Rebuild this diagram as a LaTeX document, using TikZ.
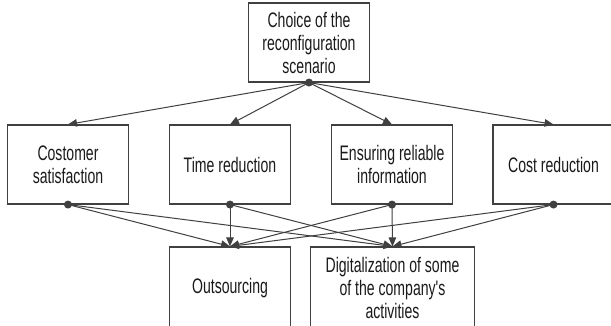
\documentclass[tikz,border=0pt]{standalone}
\usepackage{fontspec}
\newfontfamily\narrowfont{Liberation Sans}[FakeStretch=0.67]
\usetikzlibrary{arrows.meta}
\definecolor{linegray}{HTML}{404040}
\definecolor{textgray}{HTML}{1A1A1A}
\tikzset{
  box/.style={draw=linegray, line width=1.1pt, rectangle, inner sep=0pt,
    minimum width=121pt, minimum height=79pt, align=center,
    font=\narrowfont\fontsize{21}{23}\selectfont, text=textgray},
  lowbox/.style={box, minimum height=82pt},
  widebox/.style={lowbox, minimum width=164pt},
  conn/.style={draw=linegray, line width=1pt,
    -{Triangle[length=9pt,width=7.5pt]}},
  dot/.style={circle, fill=linegray, inner sep=0pt, minimum size=8pt}
}
\begin{document}
\begin{tikzpicture}[x=1pt,y=-1pt]
\useasboundingbox (0,0) rectangle (611,325);
\clip (0,0) rectangle (611,325);
\fill[white] (0,0) rectangle (611,325);
% nodes
\node[box] (top) at (309,42.5) {Choice of the\\reconfiguration\\scenario};
\node[box] (b1) at (68,164.5) {Costomer\\satisfaction};
\node[box] (b2) at (230,164.5) {Time reduction};
\node[box] (b3) at (392,164.5) {Ensuring reliable\\information};
\node[box] (b4) at (553.5,164.5) {Cost reduction};
\node[lowbox] (c1) at (230,288) {Outsourcing};
\node[widebox] (c2) at (392.5,288) {Digitalization of some\\of the company's\\activities};
% connectors
\foreach \b in {b1,b2,b3,b4}{
  \draw[conn] (top.south) -- (\b.north);
}
\foreach \b in {b1,b2,b3,b4}{
  \draw[conn] (\b.south) -- (c1.north);
  \draw[conn] (\b.south) -- (c2.north);
}
% dots
\node[dot] (dtop) at (top.south) {};
\foreach \b in {b1,b2,b3,b4}{
  \node[dot] (d\b) at (\b.south) {};
}
\end{tikzpicture}
\end{document}
